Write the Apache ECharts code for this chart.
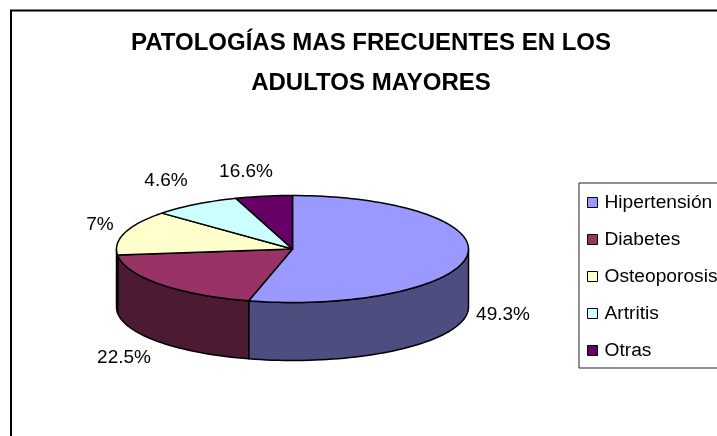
<!DOCTYPE html>
<html>
<head>
<meta charset="utf-8">
<title>Patologías</title>
<style>
html,body{margin:0;padding:0;width:717px;height:436px;overflow:hidden;background:#fff}
#main{width:780px;height:480px}
</style>
<script src="https://cdn.jsdelivr.net/npm/echarts@6/dist/echarts.min.js"></script>
</head>
<body>
<div id="main"></div>
<script>
//categorias
var categories = ['Hipertensión', 'Diabetes', 'Osteoporosis', 'Artritis', 'Otras']
//tamaño de cada porcion
var sliceValues = [54, 19.2, 13.5, 8.1, 5.2]
//etiquetas tal como salen en el grafico
var sliceLabels = ['49.3%', '22.5%', '7%', '4.6%', '16.6%']

var topColors = ['#9999ff', '#993366', '#ffffcc', '#ccffff', '#660066']
var sideColors = ['#4d4d80', '#4d1a33', '#808066', '#668080', '#330033']
//centro de cada etiqueta
var labelPos = [[503, 315], [124, 358], [100, 225], [166, 181], [246, 172]]

var font = '"Liberation Sans", Arial, sans-serif'
var cx = 292.5, cy = 249, rx = 176, ry = 53.5, depth = 58
var total = sliceValues.reduce(function (a, b) { return a + b }, 0)

function pointAt(deg, dy) {
    let r = deg * Math.PI / 180
    return [cx + rx * Math.sin(r), cy - ry * Math.cos(r) + dy]
}
function arc(from, to, dy) {
    let pts = []
    let n = Math.max(2, Math.ceil(Math.abs(to - from) / 2))
    for (let i = 0; i <= n; i++) {
        pts.push(pointAt(from + (to - from) * i / n, dy))
    }
    return pts
}

//cada porcion es una serie para que salga en la leyenda
var acum = 0
var series = categories.map(function (name, idx) {
    let start = acum / total * 360
    acum += sliceValues[idx]
    let end = acum / total * 360
    return {
        type: 'custom',
        name: name,
        coordinateSystem: 'none',
        silent: true,
        itemStyle: {color: topColors[idx]},
        data: [[sliceValues[idx]]],
        renderItem: function () {
            let children = []
            let lineStyle = {stroke: '#000', lineWidth: 1.5, lineJoin: 'round'}
            //pared lateral, solo la parte de delante
            let a = Math.max(start, 90), b = Math.min(end, 270)
            if (b > a) {
                children.push({
                    type: 'polygon',
                    shape: {points: arc(a, b, 0).concat(arc(b, a, depth))},
                    style: Object.assign({fill: sideColors[idx]}, lineStyle)
                })
            }
            //cara de arriba
            children.push({
                type: 'polygon',
                shape: {points: [[cx, cy]].concat(arc(start, end, 0))},
                style: Object.assign({fill: topColors[idx]}, lineStyle)
            })
            children.push({
                type: 'text',
                style: {
                    text: sliceLabels[idx],
                    x: labelPos[idx][0],
                    y: labelPos[idx][1],
                    align: 'center',
                    verticalAlign: 'middle',
                    fill: '#000',
                    font: '19px ' + font
                }
            })
            return {type: 'group', children: children}
        }
    }
})

var myChart = echarts.init(document.getElementById('main'), null, {renderer: 'canvas'})
var option = {
    animation: false,
    backgroundColor: '#fff',
    title: {
        text: 'PATOLOGÍAS MAS FRECUENTES EN LOS\nADULTOS MAYORES',
        left: 371,
        top: 23,
        textAlign: 'center',
        padding: 0,
        textStyle: {
            fontFamily: font,
            fontSize: 24,
            fontWeight: 'bold',
            color: '#000',
            lineHeight: 40
        }
    },
    legend: {
        orient: 'vertical',
        left: 579,
        top: 183,
        padding: [9, 8, 7, 8],
        icon: 'rect',
        itemWidth: 10,
        itemHeight: 10,
        itemGap: 16,
        borderColor: '#222',
        borderWidth: 1,
        itemStyle: {borderColor: '#000', borderWidth: 1},
        textStyle: {fontFamily: font, fontSize: 19.2, color: '#000', padding: [1, 0, 0, 2], lineHeight: 20},
        data: categories
    },
    //marco exterior, se sale por la derecha y por abajo
    graphic: [{
        type: 'rect',
        silent: true,
        z: -1,
        shape: {x: 11, y: 10.5, width: 800, height: 500},
        style: {fill: '#fff', stroke: '#000', lineWidth: 2}
    }],
    series: series
}
myChart.setOption(option)
</script>
</body>
</html>
